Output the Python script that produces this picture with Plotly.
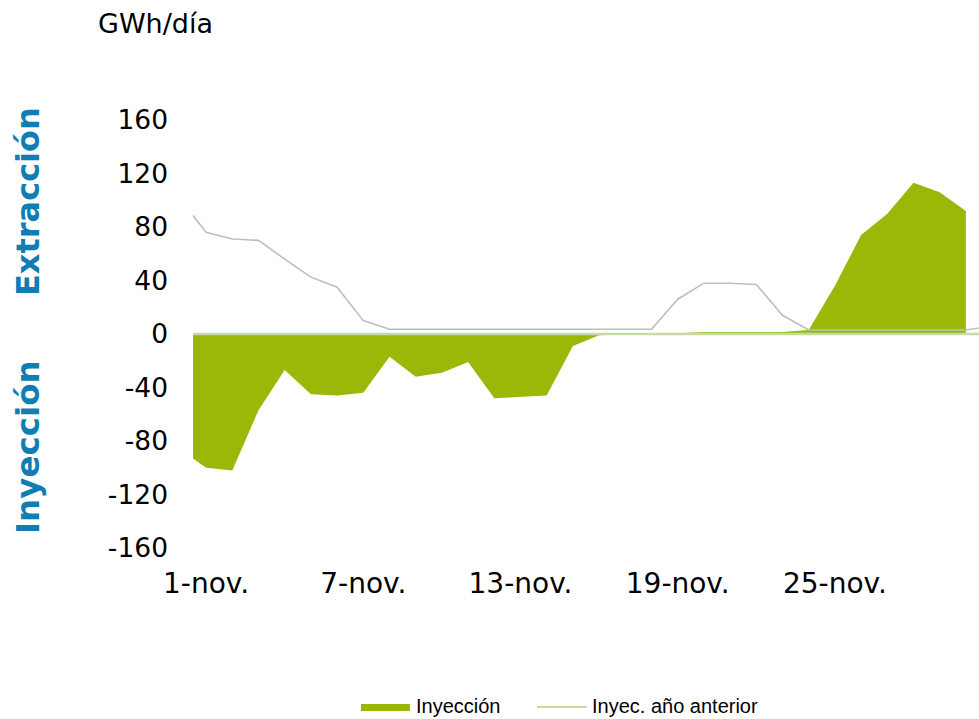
import plotly.graph_objects as go

# Día de noviembre (0 = 31-oct., 31 = 1-dic.)
dias = list(range(0, 32))

# Inyección (-) / extracción (+) diaria, GWh/día (31-oct. a 30-nov.)
inyeccion = [-86, -100, -102, -57, -27, -45, -46, -44, -17, -32, -29, -21,
             -48, -47, -46, -9, -1, 0, 0, 0.5, 1.5, 1.5, 1.5, 1.5, 3,
             36, 74, 90, 113, 106, 92]

# Mismo periodo del año anterior (31-oct. a 1-dic.)
extraccion_anterior = [101, 76, 71, 70, 56, 42.5, 35, 10, 3.5, 3.5, 3.5, 3.5,
                       3.5, 3.5, 3.5, 3.5, 3.5, 3.5, 3.5, 26, 38, 38, 37, 14,
                       3, 3, 3, 3, 3, 3, 3, 6]
inyeccion_anterior = [0] * 32

tick_dias = [1, 7, 13, 19, 25]
tick_textos = ["1-nov.", "7-nov.", "13-nov.", "19-nov.", "25-nov."]
y_ticks = [-160, -120, -80, -40, 0, 40, 80, 120, 160]
y_textos = ["-160", "-120", "-80", "-40", "0", "40", "80", "120", "160"]

nombres = ["Inyección", "Inyec. año anterior"]

VERDE = "#9BB808"
VERDE_CLARO = "#C6DBA4"
GRIS = "#BEBEBE"
AZUL = "#107DB5"

W, H = 979, 719
ML, MR, MT, MB = 193, 0, 120, 171
PW, PH = W - ML - MR, H - MT - MB


def px_x(px):
    return (px - ML) / PW


def px_y(py):
    return (H - MB - py) / PH


fig = go.Figure()

fig.add_trace(go.Scatter(
    x=dias[:len(inyeccion)], y=inyeccion, mode="lines",
    fill="tozeroy", fillcolor=VERDE, line=dict(width=0, color=VERDE),
    name=nombres[0], showlegend=False, hoverinfo="skip"))

fig.add_trace(go.Scatter(
    x=dias, y=inyeccion_anterior, mode="lines",
    line=dict(width=2.5, color=VERDE_CLARO),
    name=nombres[1], showlegend=False, hoverinfo="skip"))

fig.add_trace(go.Scatter(
    x=dias, y=extraccion_anterior, mode="lines",
    line=dict(width=1.6, color=GRIS),
    name="Extrac. año anterior", showlegend=False, hoverinfo="skip"))

FAM = "DejaVu Sans, Verdana, sans-serif"
x_font = dict(family=FAM, size=28, color="#000000")
y_font = dict(family=FAM, size=26.5, color="#000000")
unit_font = dict(family=FAM, size=27, color="#000000")

fig.update_xaxes(
    range=[0.5, 30.5], tickvals=tick_dias, ticktext=tick_textos,
    showgrid=False, zeroline=False, showline=False, ticks="",
    tickfont=x_font, ticklabelstandoff=16)
fig.update_yaxes(
    range=[-160, 160], tickvals=y_ticks, ticktext=y_textos, showgrid=False,
    zeroline=False, showline=False, ticks="", tickfont=y_font,
    ticklabelstandoff=24)

P = dict(xref="paper", yref="paper", showarrow=False)

annotations = [
    dict(text="GWh/día", x=px_x(96), y=px_y(24), xanchor="left", yanchor="middle",
         font=unit_font, **P),
    dict(text="<b>Extracción</b>", x=px_x(28), y=px_y(202), textangle=-90,
         xanchor="center", yanchor="middle",
         font=dict(family=FAM, size=32, color=AZUL), **P),
    dict(text="<b>Inyección</b>", x=px_x(28), y=px_y(447), textangle=-90,
         xanchor="center", yanchor="middle",
         font=dict(family=FAM, size=32.5, color=AZUL), **P),
]

# Leyenda dibujada a mano al pie del gráfico
legend_font = dict(family="Liberation Sans, Arial, sans-serif", size=20, color="#000000")
LEG_Y = 706
annotations += [
    dict(text=nombres[0], x=px_x(415), y=px_y(LEG_Y), xanchor="left", yanchor="middle",
         font=legend_font, borderpad=0, **P),
    dict(text=nombres[1], x=px_x(591), y=px_y(LEG_Y), xanchor="left", yanchor="middle",
         font=legend_font, borderpad=0, **P),
]

shapes = [
    dict(type="rect", xref="paper", yref="paper",
         x0=px_x(361), x1=px_x(410), y0=px_y(LEG_Y + 5), y1=px_y(LEG_Y - 2),
         fillcolor=VERDE, line=dict(width=0)),
    dict(type="line", xref="paper", yref="paper",
         x0=px_x(537), x1=px_x(587), y0=px_y(LEG_Y + 1), y1=px_y(LEG_Y + 1),
         line=dict(color=VERDE_CLARO, width=2)),
]

fig.update_layout(
    width=W, height=H, margin=dict(l=ML, r=MR, t=MT, b=MB),
    paper_bgcolor="white", plot_bgcolor="white",
    showlegend=False, annotations=annotations, shapes=shapes)

fig.write_html("out.html")
